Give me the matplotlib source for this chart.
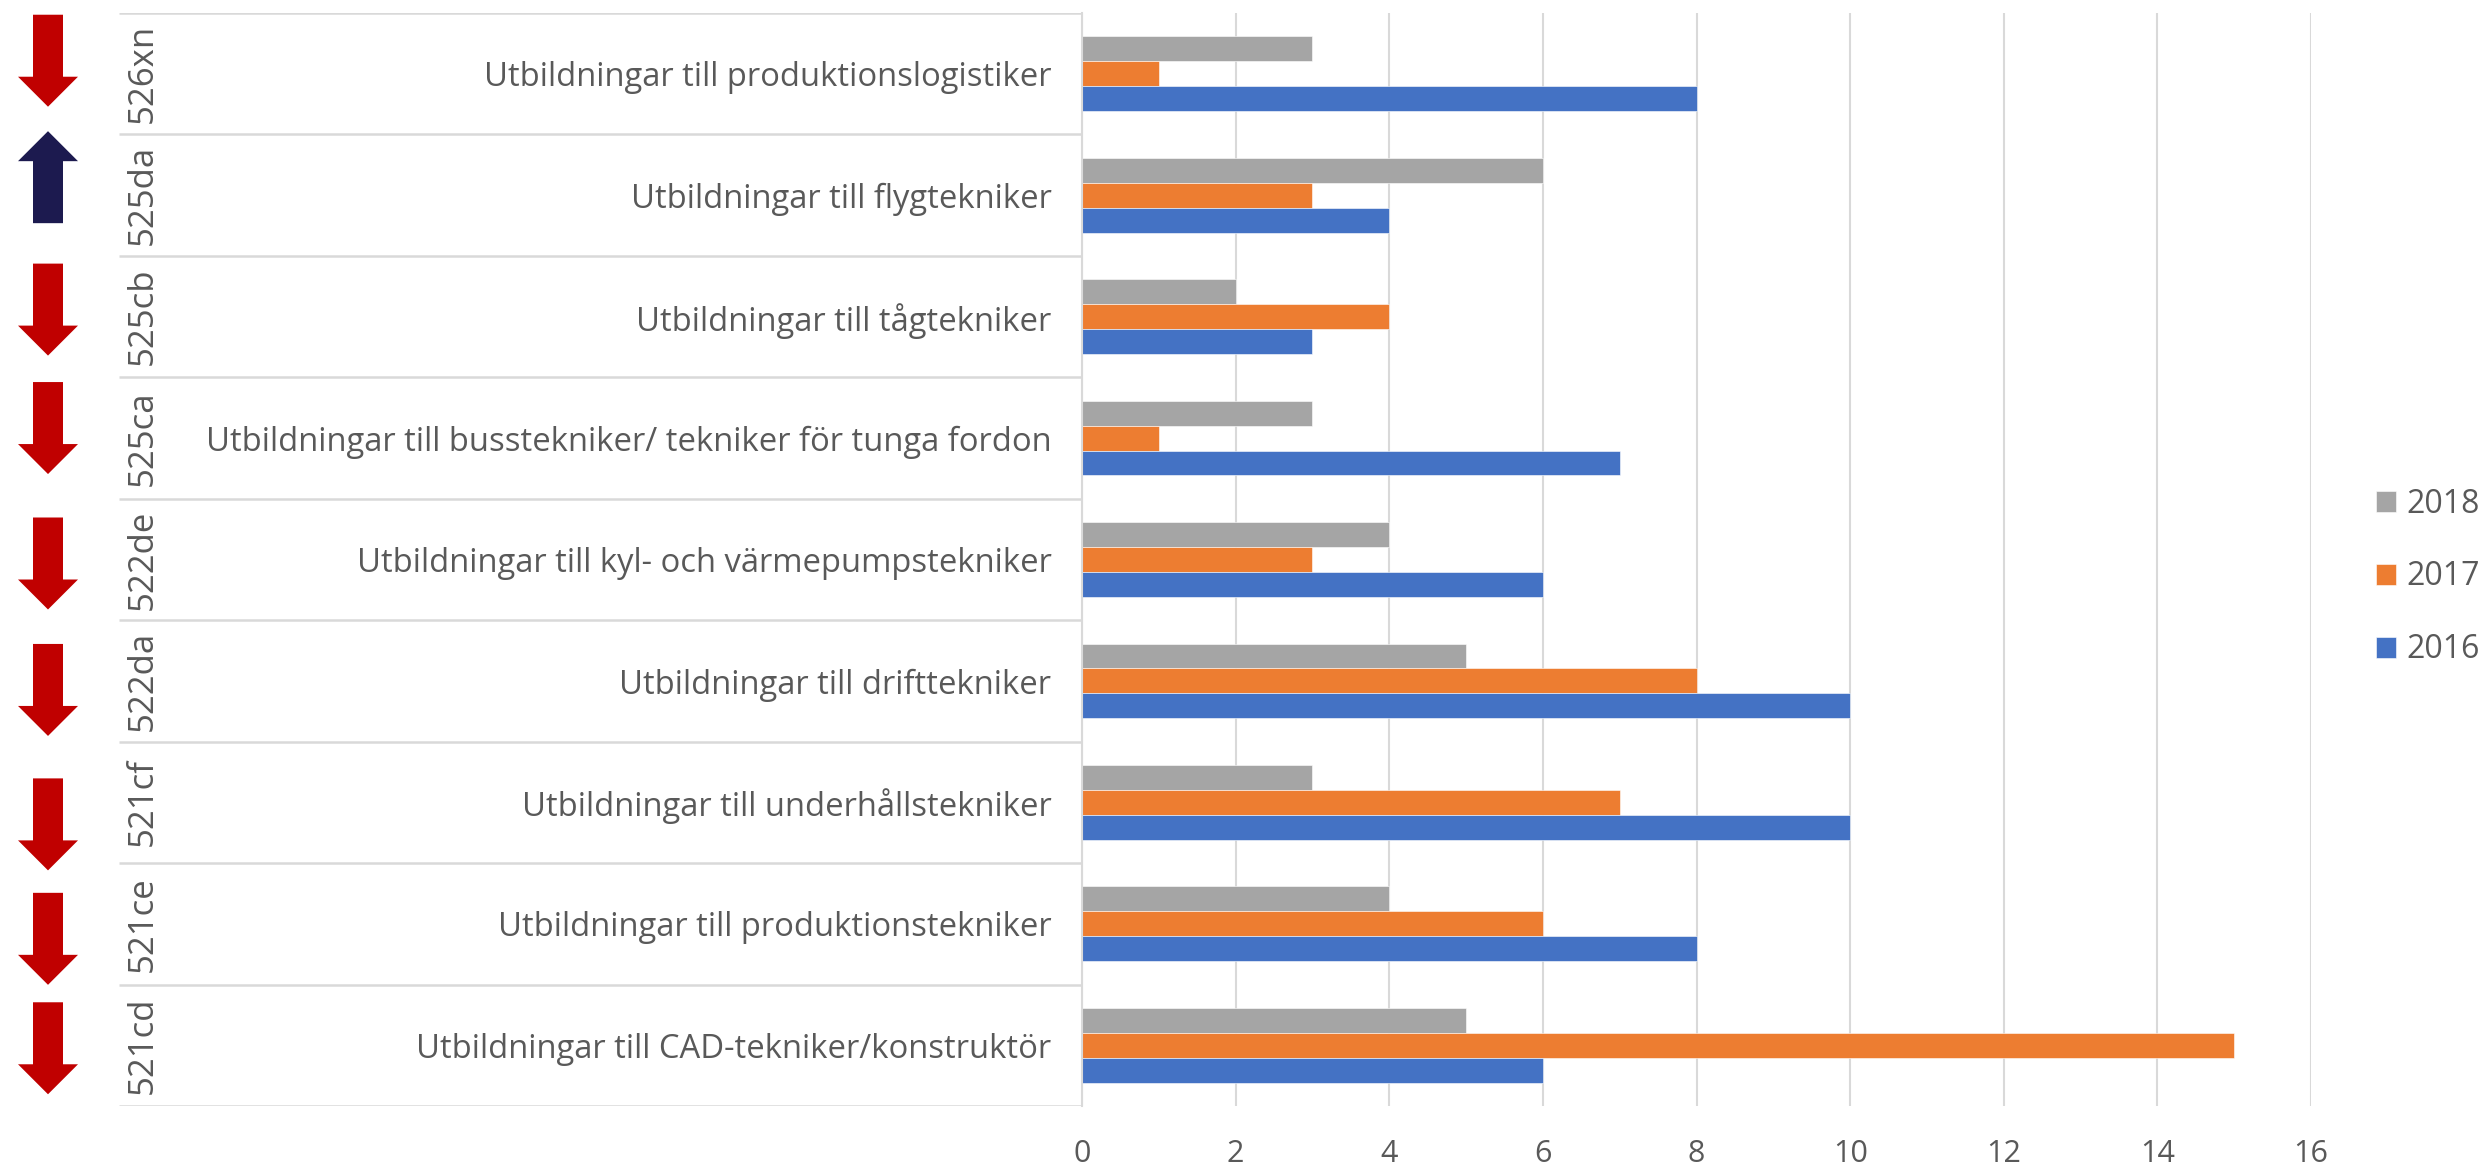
import numpy as np
import matplotlib
matplotlib.use('Agg')
import matplotlib.pyplot as plt
from matplotlib import patches

# ===============================================================================
# data (top row first)

codes = ['526xn', '525da', '525cb', '525ca', '522de', '522da', '521cf', '521ce', '521cd']
labels = ['Utbildningar till produktionslogistiker',
          'Utbildningar till flygtekniker',
          'Utbildningar till tågtekniker',
          'Utbildningar till busstekniker/ tekniker för tunga fordon',
          'Utbildningar till kyl- och värmepumpstekniker',
          'Utbildningar till drifttekniker',
          'Utbildningar till underhållstekniker',
          'Utbildningar till produktionstekniker',
          'Utbildningar till CAD-tekniker/konstruktör']
years = ['2018', '2017', '2016']
v2018 = [3, 6, 2, 3, 4, 5, 3, 4, 5]
v2017 = [1, 3, 4, 1, 3, 8, 7, 6, 15]
v2016 = [8, 4, 3, 7, 6, 10, 10, 8, 6]
trend = ['down', 'up', 'down', 'down', 'down', 'down', 'down', 'down', 'down']

# arrows were placed by hand in the original, nudge them a bit (pixels)
arrow_nudge = [-13, -18, -7, -10, 4, 9, 22, 15, 3]

# ===============================================================================

W, H = 2484, 1171
DPI = 100
fig = plt.figure(figsize=(W / DPI, H / DPI), dpi=DPI)

txt = '#595959'
grid = '#D9D9D9'
cols = ['#A5A5A5', '#ED7D31', '#4472C4']
plt.rcParams['font.family'] = ['Open Sans', 'DejaVu Sans']
fs = 23

pl, pr, pt, pb = 1082, 2311, 13, 1106
ax = fig.add_axes([pl / W, 1 - pb / H, (pr - pl) / W, (pb - pt) / H])
axT = fig.add_axes([0, 1 - pb / H, pl / W, (pb - pt) / H])

n = len(codes)
y = np.arange(n)
h = 0.205

for k, vals in enumerate([v2018, v2017, v2016]):
    ax.barh(y + (k - 1) * h, vals, height=h, color=cols[k], label=years[k],
            edgecolor='white', linewidth=0.4, zorder=2)

ax.set_xlim(0, 16)
ax.set_ylim(n - 0.5, -0.5)
ax.set_xticks(np.arange(0, 17, 2))
ax.xaxis.grid(True, color=grid, lw=1.5, zorder=0)
ax.set_axisbelow(True)
for s in ['top', 'right', 'bottom']:
    ax.spines[s].set_visible(False)
ax.spines['left'].set_color(grid)
ax.spines['left'].set_linewidth(1.5)
ax.tick_params(axis='x', length=0, pad=24, labelsize=22, labelcolor=txt)
ax.set_yticks(y)
ax.set_yticklabels(labels)
ax.tick_params(axis='y', length=0, pad=22, labelsize=23.6, labelcolor=txt)

# table part on the left -------------------------------------------------------
axT.set_xlim(0, pl)
axT.set_ylim(n - 0.5, -0.5)
axT.axis('off')
for b in np.arange(n + 1) - 0.5:
    axT.plot([119, pl], [b, b], color=grid, lw=1.8, solid_capstyle='butt')

rowpx = (pb - pt) / n
L = 92 / rowpx
hl = 30 / rowpx
for i in range(n):
    axT.text(143, i, codes[i], rotation=90, ha='center', va='center',
             fontsize=25, color=txt)
    yc = i + arrow_nudge[i] / rowpx
    if trend[i] == 'down':
        arr = patches.FancyArrow(48, yc - L / 2, 0, L, width=30, head_width=60,
                                 head_length=hl, length_includes_head=True,
                                 color='#C00000', lw=0)
    else:
        arr = patches.FancyArrow(48, yc + L / 2, 0, -L, width=30, head_width=60,
                                 head_length=hl, length_includes_head=True,
                                 color='#1C1A4F', lw=0)
    axT.add_patch(arr)

# legend -----------------------------------------------------------------------
leg = fig.legend(loc='center left', bbox_to_anchor=(2376 / W, 1 - 577 / H),
                 frameon=False, fontsize=fs, handlelength=0.62, handleheight=0.62,
                 handletextpad=0.32, labelspacing=1.25, borderpad=0,
                 borderaxespad=0)
for t in leg.get_texts():
    t.set_color(txt)

fig.savefig('out.png', dpi=DPI)
